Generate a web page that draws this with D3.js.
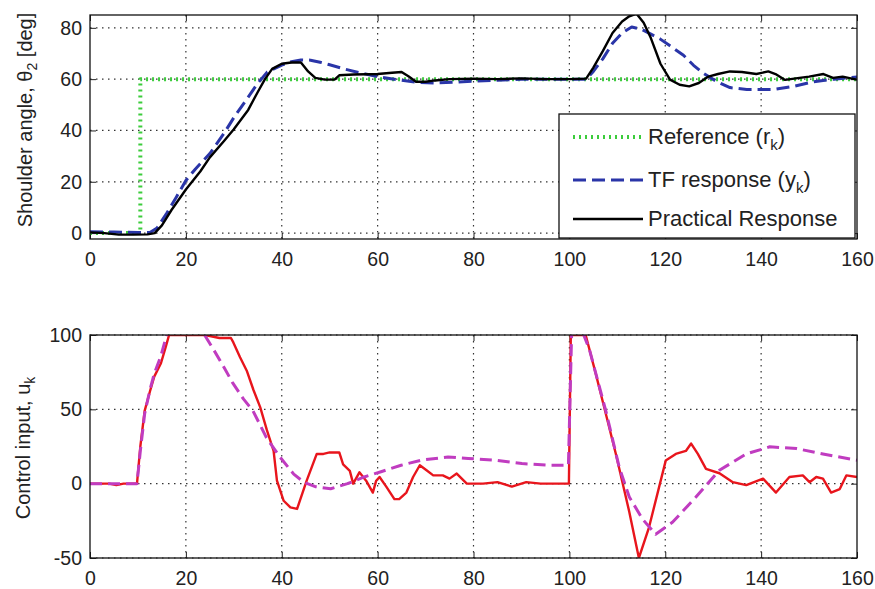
<!DOCTYPE html>
<html>
<head>
<meta charset="utf-8">
<script src="https://cdn.jsdelivr.net/npm/d3@7"></script>
<style>
  body { margin: 0; background: #fff; }
  svg { display: block; font-family: "Liberation Sans", Arial, sans-serif; }
  .axis text { fill: #222; font-size: 19.5px; }
  .axis path { display: none; }
  .axis line { stroke: #222; stroke-width: 1; }
  .grid line { stroke: #333; stroke-width: 1.2; stroke-dasharray: 1.5,4.5; }
</style>
</head>
<body>
<div id="chart"></div>
<script>
const width = 875,
  height = 589;

// shoulder angle panel
const refTime = [0, 10.5, 10.5, 160];
const refAngle = [0, 0, 60, 60];

const tfTime = [0, 5, 10, 12.5, 14, 16, 18, 20, 22, 25, 28, 30, 33, 35, 37, 40, 42, 44, 46, 48, 50, 53, 56, 60, 64, 68, 72, 76, 80, 85, 90, 95, 100, 103.5, 105, 107, 109, 111, 113, 115, 116.1, 118.9, 121, 123.8, 125.9, 128, 130.8, 133.5, 137, 142.6, 146.8, 151, 155.2, 160];
const tfAngle = [0.5, 0.4, 0.2, 0.2, 2, 7.7, 14, 20.5, 25, 31, 39, 45, 53, 58.4, 62.8, 65.5, 66.8, 67.5, 67.4, 66.6, 65.6, 64, 62.6, 61, 59.8, 58.8, 58.5, 58.8, 59.2, 59.6, 60, 60, 60, 60, 63, 68, 74, 78, 80.3, 79.5, 78.4, 75.7, 73, 69.3, 65.4, 62.2, 59, 56.7, 56, 56, 57.2, 59, 60, 60.8];

const practTime = [0, 3, 6, 9, 12, 13.5, 15, 17, 20, 23, 25, 28, 30, 33, 35, 36.5, 38, 40, 42, 44, 45.5, 47, 49, 51, 52, 55, 60, 63, 65, 66.5, 68, 70, 72, 75, 80, 85, 90, 95, 100, 103.5, 105, 107, 109, 111, 112.5, 114, 115.5, 117, 119, 121, 123, 125, 127, 129, 131, 133.5, 136, 139, 141.5, 143, 145, 148, 150, 153, 155, 157, 160];
const practAngle = [0.3, 0, -0.6, -0.6, -0.5, 0, 3, 9, 17, 24, 29.5, 36, 40.5, 48, 55, 60, 64, 66, 66.5, 66.5, 63, 60.5, 59.8, 59.8, 61.5, 61.8, 62, 62.5, 62.8, 61, 59, 59, 59.5, 60, 60.2, 60, 60.3, 60, 60, 60.2, 64.5, 71, 78, 82.5, 84.5, 85.5, 82, 76, 66, 59.8, 57.8, 57.2, 58.5, 61, 62, 63, 62.8, 62, 63, 62, 59.7, 60.5, 61, 62, 60.5, 61, 59.8];

// control input panel
const uTime = [0, 4, 5.5, 7, 9.8, 10.5, 11.4, 12.5, 13.4, 14.8, 15.8, 16.5, 24, 27, 29.4, 29.9, 31.3, 32.7, 34.1, 35.5, 36.9, 38.3, 39, 40.4, 41.8, 43.2, 45.2, 47.3, 48.7, 50, 52, 52.8, 54.2, 54.9, 56.2, 57.6, 59, 59.7, 60.4, 61.8, 63.5, 64.5, 66, 67.4, 68.8, 70.2, 71.6, 73.6, 75, 76.5, 78.6, 82, 85, 88, 91, 94, 97, 99.9, 100.3, 103.4, 105.5, 107.6, 109.7, 112.5, 114.5, 116.6, 118.7, 120.1, 122.2, 124.3, 125.4, 126.8, 128.5, 131.3, 134.1, 136.9, 140.4, 143.1, 145.9, 148.7, 150.1, 151.5, 152.9, 154.6, 156.4, 157.8, 160];
const uPract = [0, 0, -1, 0, 0, 25, 49, 62, 72, 81, 92, 100, 100, 98, 98, 95, 85, 76, 63, 51.5, 36, 22, 2, -11.5, -16, -17, 2, 20, 20, 21, 21, 13, 8.6, 0, 7.6, 2, -6, 2, 4.5, -2, -10.4, -10.4, -6, 4.5, 12.4, 9, 5.6, 5.6, 3.4, 6.8, 0, 0, 1, -2, 1, 0, 0, 0, 100, 100, 74, 47, 20, -19, -50, -29.5, -2.5, 15.5, 20, 22, 27, 20, 10, 7, 1, -1, 3.4, -6, 4.5, 5.6, 1, 4.5, 3.4, -6, -3.6, 5.6, 4.5];

const uTfTime = [0, 9.8, 10.5, 11.4, 12.5, 13.4, 14.8, 16, 18, 21, 23.9, 26, 28, 29.8, 32, 34, 36.8, 39.6, 42.5, 44.6, 47, 50.2, 53.7, 57.2, 60.7, 64.9, 69.1, 74.7, 78.9, 84.5, 90.1, 95.6, 99.8, 100.5, 102.5, 103, 104.2, 107.6, 110.4, 112.5, 115.3, 118, 121.5, 126.4, 131.3, 136.9, 141.8, 147.4, 152.9, 160];
const uTf = [0, 0, 22, 47, 63, 74, 86, 100, 110, 110, 100, 89, 78, 67.6, 57, 49, 31, 18, 6.4, 1, -2, -3.4, 0, 4.5, 8, 12.4, 15.8, 18, 17, 15.8, 13.5, 12.4, 12.4, 105, 110, 100, 90, 49, 11, -9, -24, -34, -26, -9, 9, 20, 24.8, 23.6, 20, 15.8];

const xTicks = [0, 20, 40, 60, 80, 100, 120, 140, 160];
const angleTicks = [0, 20, 40, 60, 80];
const uTicks = [-50, 0, 50, 100];

const svg = d3.select("#chart")
  .append("svg")
  .attr("width", width)
  .attr("height", height);

const plainNum = d => String(d);

function panel(id, box, yDomain, yTicks) {
  const x = d3.scaleLinear().domain([0, 160]).range([box.left, box.right]);
  const y = d3.scaleLinear().domain(yDomain).range([box.bottom, box.top]);

  const g = svg.append("g");

  g.append("clipPath")
    .attr("id", id)
    .append("rect")
    .attr("x", box.left)
    .attr("y", box.top)
    .attr("width", box.right - box.left)
    .attr("height", box.bottom - box.top);

  // dotted grid
  const grid = g.append("g").attr("class", "grid");
  grid.selectAll(".gx")
    .data(xTicks.slice(1, -1))
    .join("line")
    .attr("class", "gx")
    .attr("x1", d => x(d)).attr("x2", d => x(d))
    .attr("y1", box.top).attr("y2", box.bottom);
  grid.selectAll(".gy")
    .data(yTicks)
    .join("line")
    .attr("class", "gy")
    .attr("x1", box.left).attr("x2", box.right)
    .attr("y1", d => y(d)).attr("y2", d => y(d));

  // axes with inward ticks on all sides
  g.append("g")
    .attr("class", "axis")
    .attr("transform", `translate(0,${box.bottom})`)
    .call(d3.axisBottom(x).tickValues(xTicks).tickFormat(plainNum).tickSizeInner(-6).tickSizeOuter(0).tickPadding(13));
  g.append("g")
    .attr("class", "axis")
    .attr("transform", `translate(0,${box.top})`)
    .call(d3.axisTop(x).tickValues(xTicks).tickSizeInner(-6).tickSizeOuter(0).tickFormat(""));
  g.append("g")
    .attr("class", "axis")
    .attr("transform", `translate(${box.left},0)`)
    .call(d3.axisLeft(y).tickValues(yTicks).tickFormat(plainNum).tickSizeInner(-6).tickSizeOuter(0).tickPadding(8));
  g.append("g")
    .attr("class", "axis")
    .attr("transform", `translate(${box.right},0)`)
    .call(d3.axisRight(y).tickValues(yTicks).tickSizeInner(-6).tickSizeOuter(0).tickFormat(""));

  const plot = g.append("g").attr("clip-path", `url(#${id})`);

  g.append("rect")
    .attr("x", box.left)
    .attr("y", box.top)
    .attr("width", box.right - box.left)
    .attr("height", box.bottom - box.top)
    .attr("fill", "none")
    .attr("stroke", "#111")
    .attr("stroke-width", 1.3);

  return { x, y, g, plot };
}

function addLine(p, times, vals, color, w, dash) {
  const line = d3.line().x(i => p.x(times[i])).y(i => p.y(vals[i]));
  p.plot.append("path")
    .attr("d", line(d3.range(times.length)))
    .attr("fill", "none")
    .attr("stroke", color)
    .attr("stroke-width", w)
    .attr("stroke-linejoin", "round")
    .attr("stroke-dasharray", dash || null);
}

const anglePanel = panel("clipTop", { left: 90, right: 857, top: 15, bottom: 239 }, [-2.3, 85], angleTicks);
addLine(anglePanel, refTime, refAngle, "#3ccc3c", 4, "2,4");
addLine(anglePanel, tfTime, tfAngle, "#2a35a8", 3, "13,6");
addLine(anglePanel, practTime, practAngle, "#000", 2.4);

const inputPanel = panel("clipBot", { left: 90, right: 857, top: 335, bottom: 558 }, [-50, 100], uTicks);
addLine(inputPanel, uTime, uPract, "#e8151c", 2.4);
addLine(inputPanel, uTfTime, uTf, "#c03cc0", 3, "12,6");

// y labels
function yLabel(cx, cy, main, sub, tail) {
  const t = svg.append("text")
    .attr("transform", `translate(${cx},${cy}) rotate(-90)`)
    .attr("text-anchor", "middle")
    .attr("font-size", 20)
    .attr("fill", "#222");
  t.append("tspan").text(main);
  t.append("tspan").attr("font-size", 14).attr("dy", 5).text(sub);
  if (tail) t.append("tspan").attr("dy", -5).text(tail);
}
yLabel(32, 120, "Shoulder angle, \u03b8", "2", " [deg]");
yLabel(30, 448, "Control input, u", "k", null);

// legend
const legendRows = [
  { label: "Reference (r", sub: "k", tail: ")", color: "#3ccc3c", w: 4, dash: "2,4" },
  { label: "TF response (y", sub: "k", tail: ")", color: "#2a35a8", w: 3, dash: "13,6" },
  { label: "Practical Response", sub: "", tail: "", color: "#000", w: 2.4, dash: null }
];
const legendY = [137, 180, 219];

const legend = svg.append("g");
legend.append("rect")
  .attr("x", 559).attr("y", 114)
  .attr("width", 296).attr("height", 124)
  .attr("fill", "#fff")
  .attr("stroke", "#111")
  .attr("stroke-width", 1.3);

legendRows.forEach((d, i) => {
  const yy = legendY[i];
  legend.append("line")
    .attr("x1", 573).attr("x2", 643)
    .attr("y1", yy).attr("y2", yy)
    .attr("stroke", d.color)
    .attr("stroke-width", d.w)
    .attr("stroke-dasharray", d.dash);
  const t = legend.append("text")
    .attr("x", 648).attr("y", yy + 7)
    .attr("font-size", 22)
    .attr("fill", "#222");
  t.append("tspan").text(d.label);
  if (d.sub) {
    t.append("tspan").attr("font-size", 15).attr("dy", 6).text(d.sub);
    t.append("tspan").attr("dy", -6).text(d.tail);
  }
});
</script>
</body>
</html>
